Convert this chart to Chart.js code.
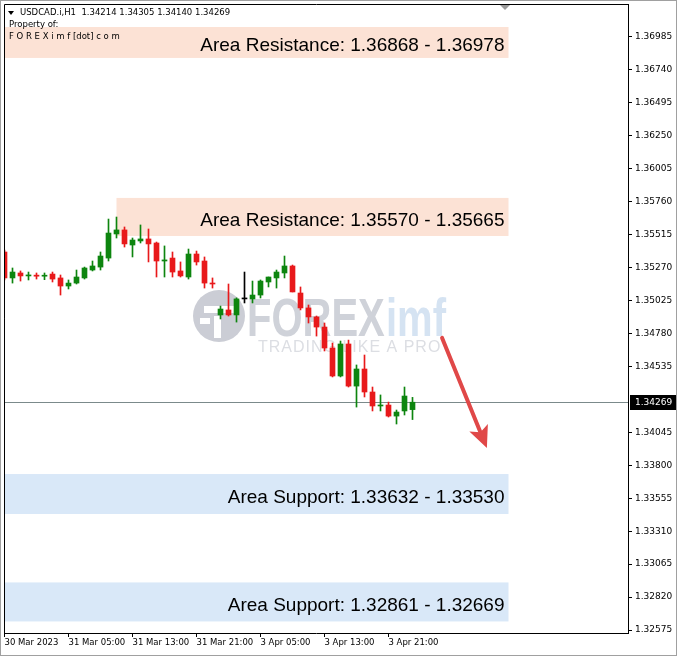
<!DOCTYPE html>
<html>
<head>
<meta charset="utf-8">
<script src="https://cdn.jsdelivr.net/npm/chart.js@4.4.0/dist/chart.umd.min.js"></script>
<style>
html,body{margin:0;padding:0;background:#fff}
canvas{display:block}
</style>
</head>
<body>
<canvas id="chart" width="677" height="656"></canvas>
<script>
// USDCAD.i H1 candles
var opens = [1.35386,1.35193,1.35230,1.35208,1.35214,1.35206,1.35222,1.35193,1.35133,1.35155,
  1.35193,1.35252,1.35274,1.35341,1.35520,1.35550,1.35438,1.35468,1.35483,1.35453,
  1.35319,1.35341,1.35245,1.35200,1.35371,1.35319,1.35155,1.34918,1.34955,1.34918,
  1.35037,1.35037,1.35066,1.35163,1.35193,1.35230,1.35282,1.35081,1.34970,1.34903,
  1.34828,1.34672,1.34464,1.34702,1.34389,1.34516,1.34345,1.34241,1.34248,1.34166,
  1.34204,1.34214];
var highs = [1.35401,1.35267,1.35245,1.35237,1.35230,1.35230,1.35237,1.35215,1.35178,1.35252,
  1.35274,1.35319,1.35386,1.35631,1.35646,1.35572,1.35490,1.35587,1.35557,1.35460,
  1.35431,1.35386,1.35312,1.35408,1.35393,1.35349,1.35193,1.34984,1.35148,1.35045,
  1.35237,1.35170,1.35178,1.35200,1.35252,1.35356,1.35289,1.35126,1.34992,1.34910,
  1.34858,1.34709,1.34724,1.34731,1.34546,1.34620,1.34382,1.34323,1.34270,1.34211,
  1.34382,1.34305];
var lows = [1.35178,1.35155,1.35170,1.35178,1.35185,1.35180,1.35163,1.35066,1.35111,1.35148,
  1.35185,1.35245,1.35252,1.35319,1.35490,1.35423,1.35349,1.35453,1.35312,1.35200,
  1.35200,1.35200,1.35200,1.35185,1.35289,1.35118,1.35118,1.34888,1.34910,1.34865,
  1.35007,1.35007,1.35044,1.35126,1.35118,1.35193,1.35089,1.34955,1.34858,1.34761,
  1.34650,1.34457,1.34457,1.34382,1.34233,1.34308,1.34204,1.34204,1.34159,1.34107,
  1.34174,1.34140];
var closes = [1.35193,1.35237,1.35208,1.35212,1.35206,1.35212,1.35185,1.35133,1.35155,1.35200,
  1.35267,1.35282,1.35356,1.35527,1.35550,1.35446,1.35475,1.35483,1.35446,1.35319,
  1.35327,1.35237,1.35208,1.35371,1.35312,1.35155,1.35148,1.34962,1.34918,1.35037,
  1.35037,1.35066,1.35170,1.35200,1.35237,1.35282,1.35089,1.34970,1.34903,1.34828,
  1.34672,1.34464,1.34702,1.34389,1.34516,1.34345,1.34241,1.34248,1.34166,1.34196,
  1.34315,1.34269];

var xTickIdx = [0, 8, 16, 24, 32, 40, 48];
var xTickLabels = ['30 Mar 2023','31 Mar 05:00','31 Mar 13:00','31 Mar 21:00','3 Apr 05:00','3 Apr 13:00','3 Apr 21:00'];
var yTicks = [1.32575,1.32820,1.33065,1.33310,1.33555,1.33800,1.34045,1.34535,1.34780,
  1.35025,1.35270,1.35515,1.35760,1.36005,1.36250,1.36495,1.36740,1.36985];
var yMin = 1.32553, yMax = 1.37230;
var lastPrice = 1.34269;

// marked areas (price range as drawn, bar index range)
var zoneLabels = ['Area Resistance: 1.36868 - 1.36978','Area Resistance: 1.35570 - 1.35665',
  'Area Support: 1.33632 - 1.33530','Area Support: 1.32861 - 1.32669'];
var zoneKind = ['res','res','sup','sup'];
var zoneHigh = [1.37059, 1.35788, 1.33735, 1.32929];
var zoneLow = [1.36829, 1.35505, 1.33438, 1.32639];
var zoneFrom = [-1, 14, -1, -1];
var zoneTo = [63, 63, 63, 63];

// arrow: [bar index, price]
var arrowFrom = [54.7, 1.34747];
var arrowTo = [60.3, 1.33928];

var idx = opens.map(function(v,i){ return i; });
function candleColor(i){
  if (closes[i] > opens[i]) return '#0d850f';
  if (closes[i] < opens[i]) return '#e8191b';
  return '#000000';
}
var colors = idx.map(candleColor);

function noPad(s){
  s.paddingTop = 0; s.paddingBottom = 0; s.paddingLeft = 0; s.paddingRight = 0;
}

var overlay = {
  id: 'overlay',
  beforeDatasetsDraw: function(chart){
    var ctx = chart.ctx, xs = chart.scales.x, ys = chart.scales.y, a = chart.chartArea;
    ctx.save();
    ctx.beginPath();
    ctx.rect(a.left, a.top, a.right - a.left, a.bottom - a.top);
    ctx.clip();
    for (var k = 0; k < zoneLabels.length; k++){
      var x1 = xs.getPixelForValue(zoneFrom[k]), x2 = xs.getPixelForValue(zoneTo[k]);
      var y1 = ys.getPixelForValue(zoneHigh[k]), y2 = ys.getPixelForValue(zoneLow[k]);
      ctx.fillStyle = zoneKind[k] == 'res' ? '#fce2d5' : '#d9e8f8';
      ctx.fillRect(x1, y1, x2 - x1, y2 - y1);
    }
    // watermark
    ctx.fillStyle = '#cbcdd5';
    ctx.beginPath();
    ctx.arc(219, 316, 26, 0, Math.PI*2);
    ctx.fill();
    ctx.fillStyle = '#ffffff';
    ctx.fillRect(204, 306, 30, 7);
    ctx.fillRect(214, 316, 7, 22);
    ctx.fillRect(200, 318, 10, 6);
    ctx.save();
    ctx.translate(0, 336);
    ctx.scale(1, 1.35);
    ctx.font = 'bold 40px "Liberation Sans"';
    ctx.textBaseline = 'alphabetic';
    ctx.fillStyle = '#cfd2d9';
    ctx.fillText('FOREX', 247, 0);
    ctx.fillStyle = '#d5e3f2';
    ctx.fillText('imf', 386, 0);
    ctx.restore();
    ctx.font = '16px "Liberation Sans"';
    ctx.fillStyle = '#dcdee3';
    ctx.letterSpacing = '1px';
    ctx.textBaseline = 'alphabetic';
    ctx.fillText('TRADING LIKE A PRO', 258, 352);
    ctx.letterSpacing = '0px';
    // last price line
    var py = Math.round(ys.getPixelForValue(lastPrice)) + 0.5;
    ctx.strokeStyle = '#7b8a8b';
    ctx.lineWidth = 1;
    ctx.beginPath();
    ctx.moveTo(a.left, py);
    ctx.lineTo(a.right, py);
    ctx.stroke();
    ctx.restore();
  },
  afterDatasetsDraw: function(chart){
    var ctx = chart.ctx, xs = chart.scales.x, ys = chart.scales.y, a = chart.chartArea;
    ctx.save();
    // zone captions
    ctx.font = '19px "Liberation Sans"';
    ctx.fillStyle = '#000';
    ctx.textAlign = 'right';
    ctx.textBaseline = 'alphabetic';
    for (var k = 0; k < zoneLabels.length; k++){
      var x2 = xs.getPixelForValue(zoneTo[k]);
      var ym = (ys.getPixelForValue(zoneHigh[k]) + ys.getPixelForValue(zoneLow[k])) / 2;
      ctx.fillText(zoneLabels[k], x2 - 4, ym + 9);
    }
    // arrow
    var ax1 = xs.getPixelForValue(arrowFrom[0]), ay1 = ys.getPixelForValue(arrowFrom[1]);
    var ax2 = xs.getPixelForValue(arrowTo[0]), ay2 = ys.getPixelForValue(arrowTo[1]);
    var ang = Math.atan2(ay2 - ay1, ax2 - ax1);
    var hl = 22, hw = 10;
    var bx = ax2 - hl*Math.cos(ang), by = ay2 - hl*Math.sin(ang);
    ctx.strokeStyle = '#e04848';
    ctx.fillStyle = '#e04848';
    ctx.lineWidth = 4;
    ctx.lineCap = 'round';
    ctx.beginPath();
    ctx.moveTo(ax1, ay1);
    ctx.lineTo(bx + 4*Math.cos(ang), by + 4*Math.sin(ang));
    ctx.stroke();
    ctx.beginPath();
    ctx.moveTo(ax2, ay2);
    ctx.lineTo(bx + hw*Math.sin(ang), by - hw*Math.cos(ang));
    ctx.lineTo(bx + 5*Math.cos(ang), by + 5*Math.sin(ang));
    ctx.lineTo(bx - hw*Math.sin(ang), by + hw*Math.cos(ang));
    ctx.closePath();
    ctx.fill();
    // frame
    ctx.strokeStyle = '#000';
    ctx.lineWidth = 1;
    ctx.beginPath();
    ctx.moveTo(a.left + 0.5, a.bottom);
    ctx.lineTo(a.left + 0.5, a.top + 0.5);
    ctx.lineTo(a.right, a.top + 0.5);
    ctx.stroke();
    ctx.strokeStyle = '#a0a0a0';
    ctx.strokeRect(0.5, 0.5, chart.width - 1, chart.height - 1);
    // shift marker
    ctx.fillStyle = '#9a9a9a';
    ctx.beginPath();
    ctx.moveTo(500, a.top + 1);
    ctx.lineTo(510, a.top + 1);
    ctx.lineTo(505, a.top + 6);
    ctx.closePath();
    ctx.fill();
    // header
    ctx.textAlign = 'left';
    ctx.textBaseline = 'middle';
    ctx.fillStyle = '#000';
    ctx.beginPath();
    ctx.moveTo(8, 11);
    ctx.lineTo(14, 11);
    ctx.lineTo(11, 15);
    ctx.closePath();
    ctx.fill();
    ctx.font = '8.5px "DejaVu Sans"';
    var n = opens.length - 1;
    ctx.fillText('USDCAD.i,H1  ' + opens[n].toFixed(5) + ' ' + highs[n].toFixed(5) + ' ' +
      lows[n].toFixed(5) + ' ' + closes[n].toFixed(5), 20, 13);
    ctx.fillText('Property of:', 9, 25);
    ctx.fillText('F O R E X i m f [dot] c o m', 9, 37);
    // price tag
    var py = Math.round(ys.getPixelForValue(lastPrice));
    ctx.fillStyle = '#000';
    ctx.fillRect(a.right + 2, py - 7, 46, 15);
    ctx.fillStyle = '#fff';
    ctx.font = '9px "DejaVu Sans"';
    ctx.fillText(lastPrice.toFixed(5), a.right + 7, py + 1);
    ctx.restore();
  }
};

var ctx = document.getElementById('chart').getContext('2d');
new Chart(ctx, {
  type: 'bar',
  data: {
    datasets: [{
      label: 'wick',
      data: idx.map(function(i){ return {x: i, y: [lows[i], highs[i]]}; }),
      backgroundColor: colors,
      barThickness: 1,
      grouped: false,
      order: 2
    }, {
      label: 'body',
      data: idx.map(function(i){ return {x: i, y: [opens[i], closes[i]]}; }),
      backgroundColor: colors,
      barThickness: 5,
      minBarLength: 1,
      grouped: false,
      order: 1
    }]
  },
  options: {
    responsive: false,
    animation: false,
    layout: {padding: {left: 4, top: 4, right: 0, bottom: 0}},
    plugins: {legend: {display: false}, tooltip: {enabled: false}},
    scales: {
      x: {
        type: 'linear',
        min: -0.0625,
        max: 77.9375,
        offset: false,
        afterBuildTicks: function(s){ s.ticks = xTickIdx.map(function(v){ return {value: v}; }); },
        afterFit: function(s){ s.height = 23; noPad(s); },
        ticks: {
          align: 'start',
          maxRotation: 0,
          autoSkip: false,
          padding: 1,
          color: '#000',
          font: {family: 'DejaVu Sans', size: 8.5},
          callback: function(v){ return xTickLabels[xTickIdx.indexOf(v)]; }
        },
        grid: {drawOnChartArea: false, tickLength: 4, color: '#000', offset: false},
        border: {display: true, color: '#000'}
      },
      y: {
        position: 'right',
        min: yMin,
        max: yMax,
        afterBuildTicks: function(s){ s.ticks = yTicks.map(function(v){ return {value: v}; }); },
        afterFit: function(s){ s.width = 49; noPad(s); },
        ticks: {
          padding: 3,
          color: '#000',
          font: {family: 'DejaVu Sans', size: 9},
          callback: function(v){ return v.toFixed(5); }
        },
        grid: {drawOnChartArea: false, tickLength: 4, color: '#000'},
        border: {display: true, color: '#000'}
      }
    }
  },
  plugins: [overlay]
});
</script>
</body>
</html>
